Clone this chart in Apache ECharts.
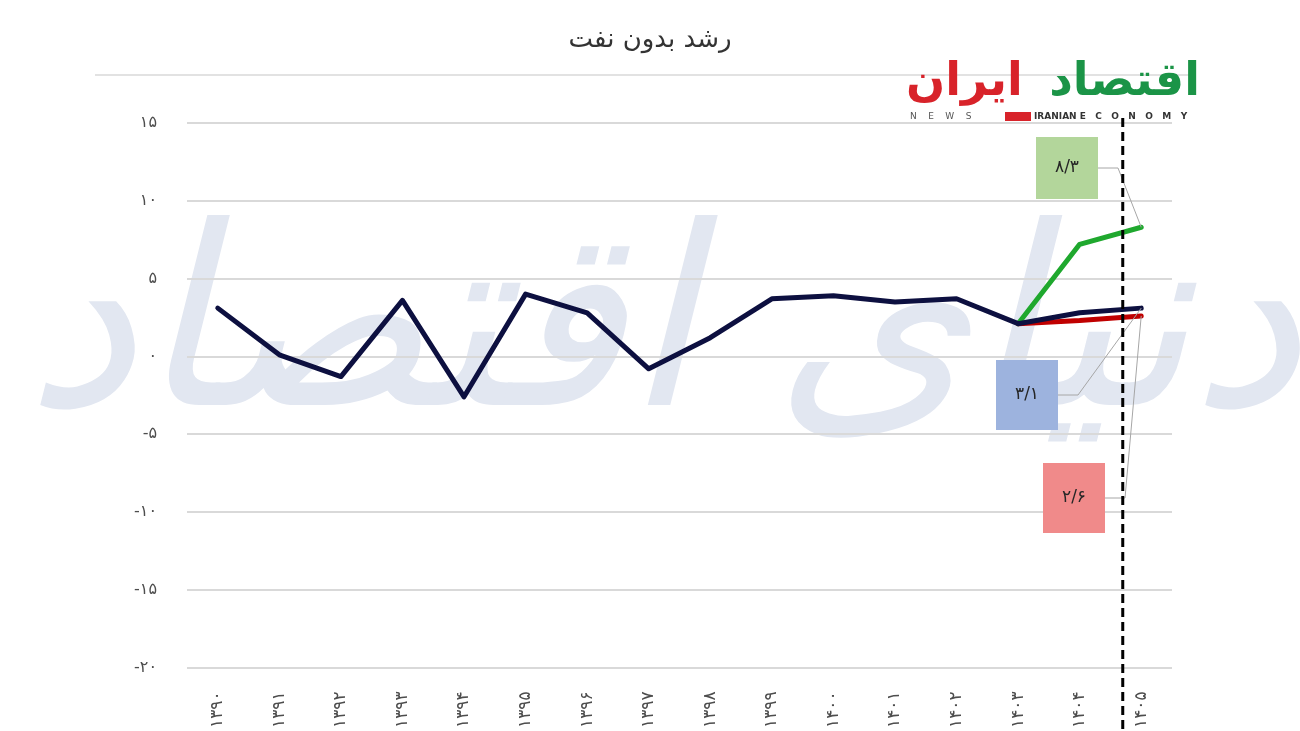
<!DOCTYPE html>
<html>
<head>
<meta charset="utf-8">
<script src="https://cdn.jsdelivr.net/npm/echarts@6/dist/echarts.min.js"></script>
<style>
html, body { margin: 0; padding: 0; background: #fff; }
#chart { width: 1300px; height: 731px; }
</style>
</head>
<body>
<div id="chart"></div>
<script>
// سال‌ها و مقادیر رشد بدون نفت
const years = ['1390', '1391', '1392', '1393', '1394', '1395', '1396', '1397', '1398', '1399', '1400', '1401', '1402', '1403', '1404', '1405']
const baseGrowth = [3.1, 0.1, -1.3, 3.6, -2.6, 4.0, 2.8, -0.8, 1.2, 3.7, 3.9, 3.5, 3.7, 2.1, 2.8, 3.1]
const highGrowth = [null, null, null, null, null, null, null, null, null, null, null, null, null, 2.1, 7.2, 8.3]
const lowGrowth = [null, null, null, null, null, null, null, null, null, null, null, null, null, 2.1, 2.3, 2.6]
const yTicks = [-20, -15, -10, -5, 0, 5, 10, 15]
const dividerAt = 14.7 // خط چین بین ۱۴۰۴ و ۱۴۰۵ (بر حسب شماره دسته)

const font = 'DejaVu Sans'
const faDigits = '۰۱۲۳۴۵۶۷۸۹'
function toFa (v) {
    return String(v).replace(/[0-9]/g, d => faDigits[d]).replace('.', '/')
}

// جعبه‌های برچسب انتهای هر سری
const boxes = {
    high: { x: 1067, y: 168, w: 62, h: 62, color: '#b3d69b' },
    base: { x: 1027, y: 395, w: 62, h: 70, color: '#9db3de' },
    low: { x: 1074, y: 498, w: 62, h: 70, color: '#f08a8a' }
}

function endLabel (values, box) {
    return values.map((v, i) => {
        if (i !== values.length - 1) return v
        return {
            value: v,
            label: {
                show: true,
                formatter: p => toFa(p.value),
                backgroundColor: box.color,
                width: box.w,
                height: box.h,
                lineHeight: box.h,
                align: 'center',
                verticalAlign: 'middle',
                color: '#262626',
                fontSize: 17,
                fontFamily: font
            }
        }
    })
}

function lineSeries (name, values, color, box, z) {
    return {
        name: name,
        type: 'line',
        data: endLabel(values, box),
        z: z,
        symbol: 'circle',
        symbolSize: 0,
        showSymbol: true,
        connectNulls: false,
        lineStyle: { color: color, width: 5, cap: 'round', join: 'round' },
        itemStyle: { color: color },
        labelLayout: { x: box.x, y: box.y, align: 'center', verticalAlign: 'middle' },
        emphasis: { disabled: true },
        animation: false
    }
}

const chart = echarts.init(document.getElementById('chart'))

const option = {
    animation: false,
    title: {
        text: 'رشد بدون نفت',
        left: 'center',
        top: 22,
        textStyle: { fontFamily: font, fontSize: 26, fontWeight: 'normal', color: '#333' }
    },
    grid: { left: 187, right: 128, top: 123, bottom: 63 },
    xAxis: {
        type: 'category',
        data: years,
        boundaryGap: true,
        axisLine: { show: false },
        axisTick: { show: false },
        axisLabel: {
            rotate: 90,
            margin: 24,
            interval: 0,
            formatter: v => toFa(v),
            color: '#4d4d4d',
            fontSize: 17,
            fontFamily: font
        }
    },
    yAxis: {
        type: 'value',
        min: yTicks[0],
        max: yTicks[yTicks.length - 1],
        interval: 5,
        axisLine: { show: false },
        axisTick: { show: false },
        axisLabel: {
            margin: 30,
            formatter: v => toFa(v),
            color: '#4d4d4d',
            fontSize: 16,
            fontFamily: font
        },
        splitLine: { lineStyle: { color: '#d9d9d9', width: 2 } }
    },
    series: [
        lineSeries('high', highGrowth, '#1fa82e', boxes.high, 3),
        lineSeries('low', lowGrowth, '#c00000', boxes.low, 4),
        lineSeries('base', baseGrowth, '#0d1040', boxes.base, 5)
    ]
}
chart.setOption(option)

// خطوط راهنما، خط چین و واترمارک
function leader (seriesValues, box) {
    let idx = seriesValues.length - 1
    let pt = chart.convertToPixel({ xAxisIndex: 0, yAxisIndex: 0 }, [idx, seriesValues[idx]])
    let bx = box.x + box.w / 2
    return {
        type: 'polyline',
        z: 10,
        shape: { points: [[bx, box.y], [bx + 20, box.y], pt] },
        style: { stroke: '#a6a6a6', lineWidth: 1, fill: null }
    }
}
let p14 = chart.convertToPixel({ xAxisIndex: 0 }, 14)
let p15 = chart.convertToPixel({ xAxisIndex: 0 }, 15)
let divX = p14 + (p15 - p14) * (dividerAt - 14)

chart.setOption({
    graphic: [
        {
            type: 'text',
            z: -100,
            left: 25,
            top: 215,
            style: { text: 'دنیای اقتصاد', font: 'italic 250px ' + font, fill: '#e2e7f1' }
        },
        {
            type: 'line',
            z: 1,
            shape: { x1: 95, y1: 75, x2: 1190, y2: 75 },
            style: { stroke: '#d9d9d9', lineWidth: 1.5 }
        },
        {
            type: 'line',
            z: 20,
            shape: { x1: divX, y1: 118, x2: divX, y2: 731 },
            style: { stroke: '#000', lineWidth: 3, lineDash: [9, 5] }
        },
        leader(highGrowth, boxes.high),
        leader(baseGrowth, boxes.base),
        leader(lowGrowth, boxes.low),
        // لوگو
        {
            type: 'text', z: 16, right: 100, top: 60,
            style: { text: 'اقتصاد', font: 'bold 46px ' + font, fill: '#1b9447' }
        },
        {
            type: 'text', z: 16, left: 906, top: 60,
            style: { text: 'ایران', font: 'bold 46px ' + font, fill: '#d8232a' }
        },
        {
            type: 'text', z: 16, left: 910, top: 112,
            style: { text: 'N    E    W    S', font: '9px ' + font, fill: '#555' }
        },
        {
            type: 'rect', z: 16,
            shape: { x: 1005, y: 112, width: 26, height: 9 },
            style: { fill: '#d8232a' }
        },
        {
            type: 'text', z: 16, left: 1034, top: 112,
            style: { text: 'IRANIAN E   C   O   N   O   M   Y', font: 'bold 9px ' + font, fill: '#333' }
        }
    ]
})
</script>
</body>
</html>
